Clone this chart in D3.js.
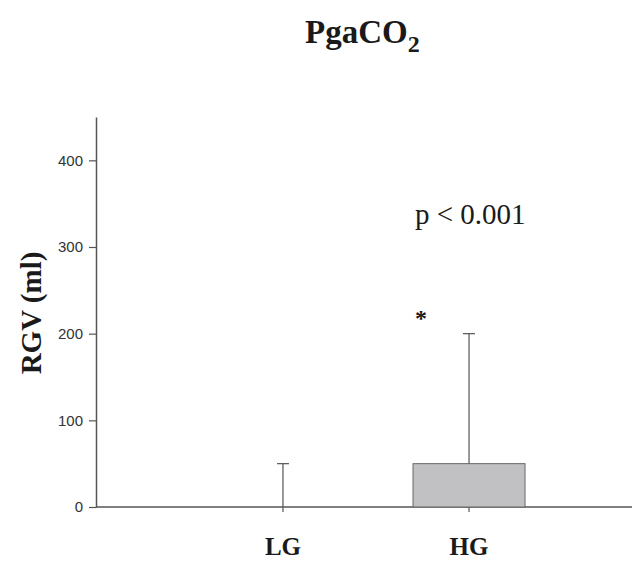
<!DOCTYPE html>
<html>
<head>
<meta charset="utf-8">
<script src="https://cdn.jsdelivr.net/npm/d3@7"></script>
<style>
	body { margin: 0; background: #fff; }
	svg { display: block; }
</style>
</head>
<body>
<div id="chart"></div>
<script>
// Data
const categories = ["LG", "HG"];
const means = [0, 50];
const errUpper = [50, 200];
const yTicks = [0, 100, 200, 300, 400];
const pLabel = "p < 0.001";

const width = 632, height = 562;

const svg = d3.select("#chart").append("svg")
	.attr("width", width).attr("height", height);

// Scales
const scaleY = d3.scaleLinear([0, 450], [507, 117]);
const scaleX = d3.scaleBand(categories, [96, 656])
	.paddingInner(0.398).paddingOuter(0.704);

const axisColor = "#555";

// Y axis
const axisY = svg.append("g")
	.attr("transform", "translate(96,0)")
	.call(d3.axisLeft(scaleY).tickValues(yTicks).tickSize(7).tickPadding(6).tickSizeOuter(0));
axisY.select(".domain").attr("stroke", axisColor).attr("stroke-width", 1.5);
axisY.selectAll(".tick line").attr("stroke", axisColor).attr("stroke-width", 1.2);
axisY.selectAll(".tick text")
	.attr("fill", "#333")
	.style("font-family", "Liberation Sans, Arial, sans-serif")
	.style("font-size", "15px");

// X axis
svg.append("line")
	.attr("x1", 96).attr("x2", width)
	.attr("y1", scaleY(0)).attr("y2", scaleY(0))
	.attr("stroke", axisColor).attr("stroke-width", 1.5);

svg.selectAll("line.xtick")
	.data(categories)
	.join("line")
	.classed("xtick", true)
	.attr("x1", (d) => scaleX(d) + scaleX.bandwidth() / 2)
	.attr("x2", (d) => scaleX(d) + scaleX.bandwidth() / 2)
	.attr("y1", scaleY(0)).attr("y2", scaleY(0) + 5)
	.attr("stroke", axisColor).attr("stroke-width", 1.2);

svg.selectAll("text.xlabel")
	.data(categories)
	.join("text")
	.classed("xlabel", true)
	.attr("x", (d) => scaleX(d) + scaleX.bandwidth() / 2)
	.attr("y", 555)
	.attr("text-anchor", "middle")
	.style("font-family", "Liberation Serif, Times New Roman, serif")
	.style("font-weight", "bold")
	.style("font-size", "25px")
	.attr("fill", "#1a1a1a")
	.text((d) => d);

// Error bars and bars
const rows = categories.map((c, i) => ({ cat: c, mean: means[i], up: errUpper[i] }));
const cx = (d) => scaleX(d.cat) + scaleX.bandwidth() / 2;

svg.selectAll("rect.bar")
	.data(rows.filter((d) => d.mean > 0))
	.join("rect")
	.classed("bar", true)
	.attr("x", (d) => scaleX(d.cat))
	.attr("width", scaleX.bandwidth())
	.attr("y", (d) => scaleY(d.mean))
	.attr("height", (d) => scaleY(0) - scaleY(d.mean))
	.attr("fill", "#c1c1c3")
	.attr("stroke", "#666").attr("stroke-width", 1);

svg.selectAll("line.err")
	.data(rows)
	.join("line")
	.classed("err", true)
	.attr("x1", cx).attr("x2", cx)
	.attr("y1", (d) => scaleY(d.mean)).attr("y2", (d) => scaleY(d.up))
	.attr("stroke", "#555").attr("stroke-width", 1.2);

svg.selectAll("line.cap")
	.data(rows)
	.join("line")
	.classed("cap", true)
	.attr("x1", (d) => cx(d) - 6).attr("x2", (d) => cx(d) + 6)
	.attr("y1", (d) => scaleY(d.up)).attr("y2", (d) => scaleY(d.up))
	.attr("stroke", "#555").attr("stroke-width", 1.2);

// Annotations
svg.append("text")
	.attr("x", 415).attr("y", scaleY(326))
	.style("font-family", "Liberation Serif, Times New Roman, serif")
	.style("font-size", "29px")
	.attr("fill", "#1a1a1a")
	.text(pLabel);

svg.append("text")
	.attr("x", 415).attr("y", scaleY(209))
	.style("font-family", "Liberation Serif, Times New Roman, serif")
	.style("font-weight", "bold")
	.style("font-size", "24px")
	.attr("fill", "#1a1a1a")
	.text("*");

// Title
const title = svg.append("text")
	.attr("x", 305).attr("y", 43)
	.style("font-family", "Liberation Serif, Times New Roman, serif")
	.style("font-weight", "bold")
	.style("font-size", "33px")
	.attr("fill", "#1a1a1a");
title.append("tspan").text("PgaCO");
title.append("tspan").attr("dy", 9).style("font-size", "24px").text("2");

// Y label
svg.append("text")
	.attr("transform", "translate(41, 313) rotate(-90)")
	.attr("text-anchor", "middle")
	.style("font-family", "Liberation Serif, Times New Roman, serif")
	.style("font-weight", "bold")
	.style("font-size", "29px")
	.attr("fill", "#1a1a1a")
	.text("RGV (ml)");
</script>
</body>
</html>
